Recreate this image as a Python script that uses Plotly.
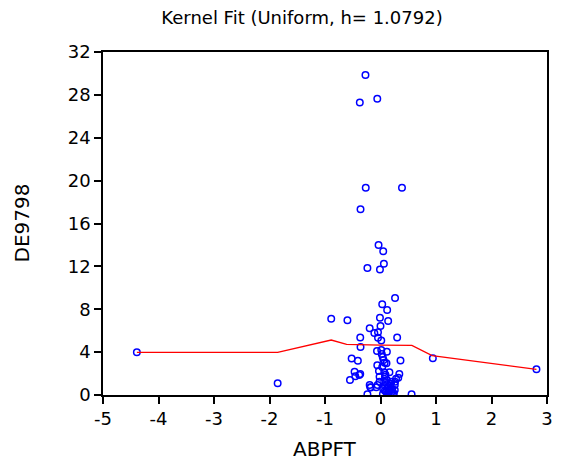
import plotly.graph_objects as go

# Scatter data (ABPFT vs DE9798)
abpft = [-0.271, -0.058, -0.373, -0.266, 0.387, -0.36, -0.035, 0.049, 0.061, -0.236,
         -0.01, 0.262, 0.031, 0.12, -0.888, -0.596, -0.01, 0.138, 0.0, -0.195,
         -0.111, -0.045, -0.365, -0.045, 0.014, 0.30, -0.36, -0.063, 0.014, 0.115,
         0.022, 0.04, 0.054, 0.075, -0.52, -0.408, 0.36, -0.058, 0.108, 0.031,
         -0.467, -0.365, -0.383, -0.028, 0.067, 0.161, 0.339, -0.454, -0.017, 0.079,
         0.115, 0.28, -0.55, -0.017, 0.067, 0.196, -0.195, -0.182, -0.076, -0.053,
         0.079, 0.132, 0.178, 0.257, 0.21, 0.161, 0.079, 0.257, 0.044, -0.236,
         0.56, 0.132, 0.22, -4.39, -1.853, 0.943, 2.81, 0.32, 0.262, -0.178,
         0.15, 0.20, 0.10, 0.24, 0.05, 0.12, 0.18, 0.09]
de9798 = [29.85, 27.64, 27.30, 19.34, 19.34, 17.32, 13.99, 13.40, 12.25, 11.85,
          11.72, 9.06, 8.46, 7.93, 7.12, 6.97, 7.21, 6.90, 6.44, 6.22,
          5.78, 5.85, 5.36, 5.35, 5.08, 5.36, 4.48, 4.10, 4.20, 4.04,
          3.82, 3.54, 3.26, 3.01, 3.40, 3.20, 3.22, 2.77, 2.96, 2.61,
          2.17, 1.96, 1.87, 2.24, 2.12, 2.12, 1.96, 1.74, 1.71, 1.71,
          1.40, 1.52, 1.40, 1.24, 1.24, 1.24, 0.93, 0.72, 0.72, 0.93,
          0.84, 0.62, 0.84, 0.93, 0.53, 0.40, 0.40, 0.47, 0.09, 0.07,
          0.07, 0.07, 0.07, 3.98, 1.09, 3.42, 2.40, 1.61, 1.24, 0.70,
          0.22, 0.28, 0.30, 0.15, 0.55, 1.00, 1.05, 1.90]

# Kernel fit line
fit_x = [-4.39, -1.853, -0.888, -0.61, 0.0, 0.565, 0.93, 2.81]
fit_y = [3.98, 3.98, 5.13, 4.73, 4.66, 4.63, 3.67, 2.40]

x_ticks = [-5, -4, -3, -2, -1, 0, 1, 2, 3]
y_ticks = [0, 4, 8, 12, 16, 20, 24, 28, 32]

title_text = "Kernel Fit (Uniform, h= 1.0792)"
x_title = "ABPFT"
y_title = "DE9798"

font_family = "DejaVu Sans, Arial, sans-serif"

fig = go.Figure()
fig.add_trace(go.Scatter(
    x=abpft, y=de9798, mode="markers",
    marker=dict(symbol="circle-open", color="#0000ff", size=6.5, line=dict(width=1.5)),
    hoverinfo="x+y", showlegend=False))
fig.add_trace(go.Scatter(
    x=fit_x, y=fit_y, mode="lines",
    line=dict(color="#ff0000", width=1.3), showlegend=False))

fig.update_layout(
    width=563, height=464,
    margin=dict(l=103, r=10, t=52, b=69),
    paper_bgcolor="white", plot_bgcolor="white",
    font=dict(family=font_family, color="black"),
    title=dict(text=title_text, x=302 / 563, xanchor="center",
               y=1 - 18 / 464, yanchor="middle", font=dict(size=18)),
    annotations=[
        dict(text=x_title, xref="paper", yref="paper", x=0.5, y=0,
             xanchor="center", yanchor="middle", yshift=-54, showarrow=False,
             font=dict(size=20)),
        dict(text=y_title, xref="paper", yref="paper", x=0, y=0.5,
             xanchor="center", yanchor="middle", xshift=-82, textangle=-90,
             showarrow=False, font=dict(size=20)),
    ],
)
fig.update_xaxes(
    range=[-5, 3], tickvals=x_ticks, ticktext=[str(v) for v in x_ticks],
    showgrid=False, zeroline=False, showline=True, linecolor="black", linewidth=1.5,
    mirror=True, ticks="outside", ticklen=7, tickwidth=1.5, tickcolor="black",
    tickfont=dict(size=18),
)
fig.update_yaxes(
    range=[0, 32], tickvals=y_ticks, ticktext=[str(v) for v in y_ticks],
    showgrid=False, zeroline=False, showline=True, linecolor="black", linewidth=1.5,
    mirror=True, ticks="outside", ticklen=7, tickwidth=1.5, tickcolor="black",
    tickfont=dict(size=18),
)

# remove the browser's default 8px body margin so the figure sits at (0, 0)
fig.write_html("out.html",
               config={"displayModeBar": False},
               post_script="document.body.style.margin='0';document.body.style.overflow='hidden';")
